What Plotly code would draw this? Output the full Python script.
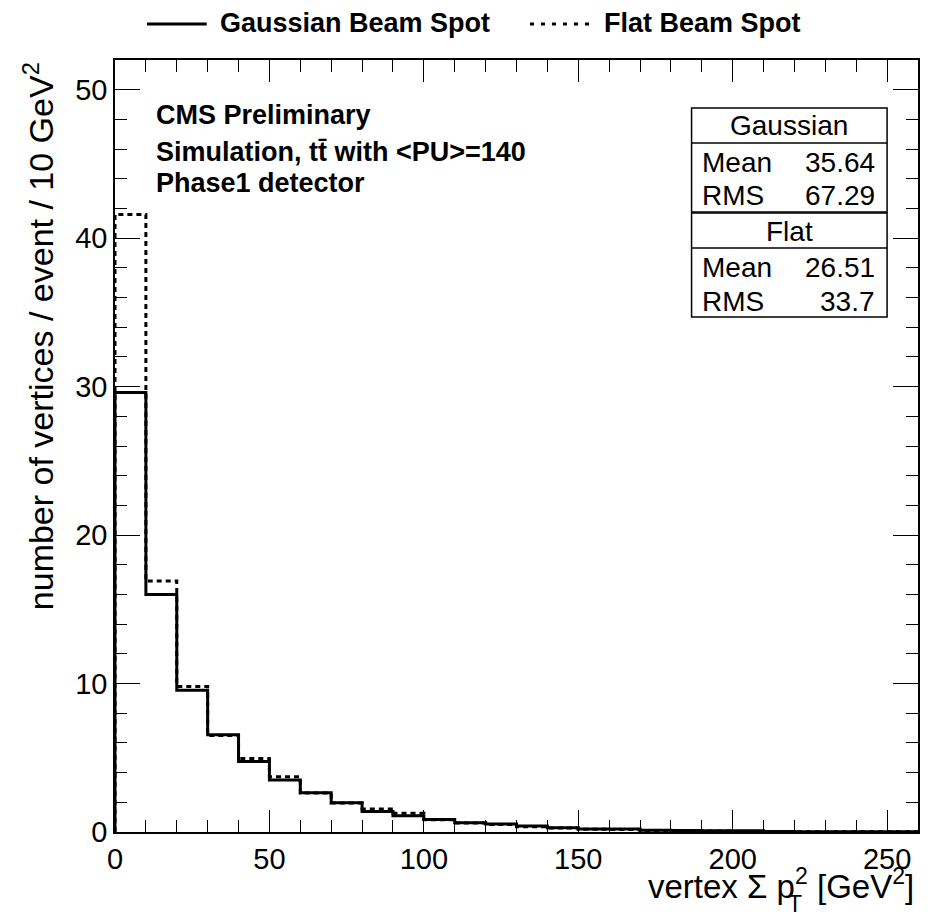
import plotly.graph_objects as go

# Histogram binning (GeV^2) and per-bin contents (vertices / event / 10 GeV^2)
bin_edges = list(range(0, 270, 10))
gaussian_counts = [29.6, 16.0, 9.55, 6.55, 4.75, 3.5, 2.65, 1.97, 1.38, 1.1,
                   0.85, 0.63, 0.54, 0.4, 0.29, 0.2, 0.2, 0.12, 0.1, 0.09,
                   0.08, 0.03, 0.02, 0.02, 0.01, 0.01]
flat_counts = [41.6, 16.9, 9.8, 6.5, 4.95, 3.72, 2.62, 1.95, 1.55, 1.26,
               0.82, 0.61, 0.5, 0.36, 0.27, 0.18, 0.17, 0.1, 0.08, 0.06,
               0.04, 0.03, 0.02, 0.01, 0.01, 0.01]

# Summary statistics shown in the stats box
stats_labels = ["Gaussian", "Flat"]
stats_mean = ["35.64", "26.51"]
stats_rms = ["67.29", "33.7"]

W, H = 932, 920
ML, MR, MT, MB = 115, 12, 60, 88
PW, PH = W - ML - MR, H - MT - MB
FONT = "Liberation Sans, Arial, Helvetica, sans-serif"


def px(x):
    return (x - ML) / PW


def py(y):
    return (H - MB - y) / PH


def step_xy(edges, counts):
    xs = [edges[0]] + list(edges)
    ys = [0] + list(counts) + [counts[-1]]
    xs.append(edges[-1])
    ys.append(0)
    return xs, ys


fig = go.Figure()

fx, fy = step_xy(bin_edges, flat_counts)
fig.add_trace(go.Scatter(x=fx, y=fy, mode="lines", line_shape="hv",
                         line=dict(color="black", width=3, dash="5px,4px"),
                         name="Flat Beam Spot", showlegend=False))
gx, gy = step_xy(bin_edges, gaussian_counts)
fig.add_trace(go.Scatter(x=gx, y=gy, mode="lines", line_shape="hv",
                         line=dict(color="black", width=3),
                         name="Gaussian Beam Spot", showlegend=False))

tickfont = dict(family=FONT, size=29, color="black")

fig.update_xaxes(range=[0, 260], tickmode="array", tickvals=[0, 50, 100, 150, 200, 250],
                 ticks="inside", ticklen=22, tickwidth=1.2, tickcolor="black",
                 minor=dict(dtick=10, ticks="inside", ticklen=12, tickwidth=1.2, tickcolor="black"),
                 showline=True, linecolor="black", linewidth=1.5, mirror="allticks",
                 showgrid=False, zeroline=False, tickfont=tickfont)
fig.update_yaxes(range=[0, 52], tickmode="array", tickvals=[0, 10, 20, 30, 40, 50],
                 ticks="inside", ticklen=25, tickwidth=1.2, tickcolor="black",
                 minor=dict(dtick=2, ticks="inside", ticklen=12, tickwidth=1.2, tickcolor="black"),
                 showline=True, linecolor="black", linewidth=1.5, mirror="allticks",
                 showgrid=False, zeroline=False, tickfont=tickfont)

shapes = []
annotations = []

# Axis titles (p_T^2 drawn with the subscript stacked under the superscript)
annotations.append(dict(xref="paper", yref="paper", x=px(918), y=py(884), xanchor="right",
                        yanchor="middle", showarrow=False,
                        text="vertex Σ p<sup>2</sup> [GeV<sup>2</sup>]",
                        font=dict(family=FONT, size=33, color="black")))
annotations.append(dict(xref="paper", yref="paper", x=px(797), y=py(904), xanchor="center",
                        yanchor="middle", showarrow=False, text="T",
                        font=dict(family=FONT, size=23, color="black")))
annotations.append(dict(xref="paper", yref="paper", x=px(38), y=py(60), xanchor="center",
                        yanchor="top", showarrow=False, textangle=-90,
                        text="number of vertices / event / 10 GeV<sup>2</sup>",
                        font=dict(family=FONT, size=34, color="black")))

# Header lines inside the frame
info_font = dict(family=FONT, size=27, color="black")
for text, y in [("<b>CMS Preliminary</b>", 115),
                ("<b>Simulation, tt\u0304 with <PU>=140</b>", 152),
                ("<b>Phase1 detector</b>", 183)]:
    annotations.append(dict(xref="paper", yref="paper", x=px(154), y=py(y), xanchor="left",
                            yanchor="middle", showarrow=False, text=text, font=info_font))

# Legend above the frame
leg_font = dict(family=FONT, size=27, color="black")
shapes.append(dict(type="line", xref="paper", yref="paper", x0=px(147), x1=px(207),
                   y0=py(24), y1=py(24), line=dict(color="black", width=3)))
annotations.append(dict(xref="paper", yref="paper", x=px(218), y=py(23), xanchor="left",
                        yanchor="middle", showarrow=False, text="<b>Gaussian Beam Spot</b>",
                        font=leg_font))
shapes.append(dict(type="line", xref="paper", yref="paper", x0=px(531), x1=px(596),
                   y0=py(24), y1=py(24), line=dict(color="black", width=3, dash="4px,7px")))
annotations.append(dict(xref="paper", yref="paper", x=px(603), y=py(23), xanchor="left",
                        yanchor="middle", showarrow=False, text="<b>Flat Beam Spot</b>",
                        font=leg_font))

# Stats box
box_l, box_r = 693, 889
row_tops = [108, 213]
stat_font = dict(family=FONT, size=28, color="black")
for i, top in enumerate(row_tops):
    hdr_bot = top + 35
    bot = top + 104
    shapes.append(dict(type="rect", xref="paper", yref="paper", x0=px(box_l), x1=px(box_r),
                       y0=py(bot), y1=py(top), line=dict(color="black", width=1.5),
                       fillcolor="white", layer="above"))
    shapes.append(dict(type="line", xref="paper", yref="paper", x0=px(box_l), x1=px(box_r),
                       y0=py(hdr_bot), y1=py(hdr_bot), line=dict(color="black", width=1.5)))
    annotations.append(dict(xref="paper", yref="paper", x=px((box_l + box_r) / 2),
                            y=py(top + 18), xanchor="center", yanchor="middle",
                            showarrow=False, text=stats_labels[i], font=stat_font))
    for lbl, val, yy in [("Mean", stats_mean[i], top + 54), ("RMS", stats_rms[i], top + 88)]:
        annotations.append(dict(xref="paper", yref="paper", x=px(701), y=py(yy),
                                xanchor="left", yanchor="middle", showarrow=False,
                                text=lbl, font=stat_font))
        annotations.append(dict(xref="paper", yref="paper", x=px(879), y=py(yy),
                                xanchor="right", yanchor="middle", showarrow=False,
                                text=val, font=stat_font))

fig.update_layout(width=W, height=H, margin=dict(l=ML, r=MR, t=MT, b=MB),
                  paper_bgcolor="white", plot_bgcolor="white",
                  shapes=shapes, annotations=annotations, showlegend=False)

fig.write_html("out.html")
